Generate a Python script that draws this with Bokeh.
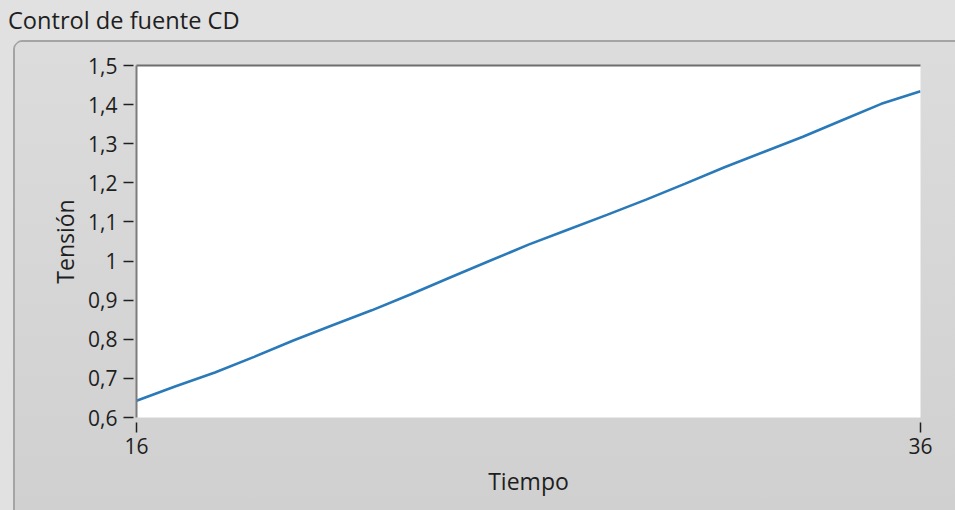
from bokeh.plotting import figure
from bokeh.models import (Div, LinearAxis, FixedTicker, ColumnDataSource, Range1d,
                          CustomJSTickFormatter)
from bokeh.layouts import column
from bokeh.embed import file_html
from bokeh.resources import INLINE

# ---- data ----
tiempo = [16, 17, 18, 19, 20, 21, 22, 23, 24, 25, 26,
          27, 28, 29, 30, 31, 32, 33, 34, 35, 36]
tension = [0.643, 0.680, 0.715, 0.755, 0.797, 0.836, 0.874, 0.915, 0.958, 1.000, 1.042,
           1.080, 1.118, 1.157, 1.198, 1.240, 1.279, 1.318, 1.360, 1.402, 1.434]

y_ticks = [0.6, 0.7, 0.8, 0.9, 1.0, 1.1, 1.2, 1.3, 1.4, 1.5]
y_tick_labels = ["0,6", "0,7", "0,8", "0,9", "1", "1,1", "1,2", "1,3", "1,4", "1,5"]
x_ticks = [16, 36]
x_tick_labels = ["16", "36"]

chart_title = "Control de fuente CD"
x_label = "Tiempo"
y_label = "Tensión"

FONT = "Open Sans"
TXT = "#1e1e1e"
OUTER = "#e1e1e1"
LINE = "#2a7ab9"

W, H = 955, 510
TITLE_H = 42
PANEL_X = 15

fmt_code = """
for (let i = 0; i < tvals.length; i++) {
    if (Math.abs(tvals[i] - tick) < 1e-6) { return tlabels[i]; }
}
return "";
"""

p = figure(width=W - PANEL_X, height=H - TITLE_H,
           x_range=Range1d(x_ticks[0], x_ticks[-1]),
           y_range=Range1d(y_ticks[0], y_ticks[-1]),
           output_backend="svg", toolbar_location=None,
           min_border_left=121, min_border_right=35,
           min_border_top=23, min_border_bottom=93,
           x_axis_label=x_label, y_axis_label=y_label)

p.background_fill_color = "white"
p.border_fill_color = None
p.outline_line_color = None
p.grid.visible = False

src = ColumnDataSource(dict(x=tiempo, y=tension))
p.line("x", "y", source=src, line_color=LINE, line_width=2.6)

# y axis
ya = p.yaxis[0]
ya.ticker = FixedTicker(ticks=y_ticks)
ya.formatter = CustomJSTickFormatter(args=dict(tvals=y_ticks, tlabels=y_tick_labels), code=fmt_code)
ya.axis_line_color = "#7c7c7c"
ya.axis_line_width = 2
ya.major_tick_line_color = "#202020"
ya.major_tick_line_width = 1.5
ya.major_tick_in = -3
ya.major_tick_out = 13
ya.minor_tick_line_color = None
ya.major_label_standoff = 6
ya.major_label_text_font = FONT
ya.major_label_text_font_size = "21px"
ya.major_label_text_color = TXT
ya.axis_label_text_font = FONT
ya.axis_label_text_font_size = "23px"
ya.axis_label_text_font_style = "normal"
ya.axis_label_text_color = TXT
ya.axis_label_standoff = 4

# x axis
xa = p.xaxis[0]
xa.ticker = FixedTicker(ticks=x_ticks)
xa.formatter = CustomJSTickFormatter(args=dict(tvals=x_ticks, tlabels=x_tick_labels), code=fmt_code)
xa.axis_line_color = None
xa.major_tick_line_color = "#202020"
xa.major_tick_line_width = 1.5
xa.major_tick_in = -5
xa.major_tick_out = 15
xa.minor_tick_line_color = None
xa.major_label_standoff = 5
xa.major_label_text_font = FONT
xa.major_label_text_font_size = "21px"
xa.major_label_text_color = TXT
xa.axis_label_text_font = FONT
xa.axis_label_text_font_size = "23px"
xa.axis_label_text_font_style = "normal"
xa.axis_label_text_color = TXT
xa.axis_label_standoff = 8

# top edge of the plot area (dark inset line)
top = LinearAxis(ticker=FixedTicker(ticks=[]), axis_line_color="#6e6e6e", axis_line_width=2,
                 major_tick_line_color=None, minor_tick_line_color=None,
                 major_label_text_font_size="0px")
p.add_layout(top, "above")

p.margin = (0, 0, 0, PANEL_X)
p.styles = {"background": "linear-gradient(#dcdcdc, #d0d0d0)",
            "border-top-left-radius": "7px",
            "box-shadow": "0 -2px 0 0 #a4a4a4, -2px 0 0 0 #a4a4a4"}

title = Div(text=chart_title, width=W, height=TITLE_H, margin=(0, 0, 0, 0),
            styles={"font-family": FONT, "font-size": "23.6px", "color": TXT,
                    "line-height": "28px", "padding-top": "6px", "padding-left": "8px"})

layout = column(title, p, spacing=0, margin=(0, 0, 0, 0),
                styles={"background-color": OUTER})

template = """
{% block postamble %}
<style>html, body { background-color: #e1e1e1; overflow: hidden; }</style>
{% endblock %}
"""

open("out.html", "w").write(file_html(layout, INLINE, title="Control de fuente CD", template=template))
